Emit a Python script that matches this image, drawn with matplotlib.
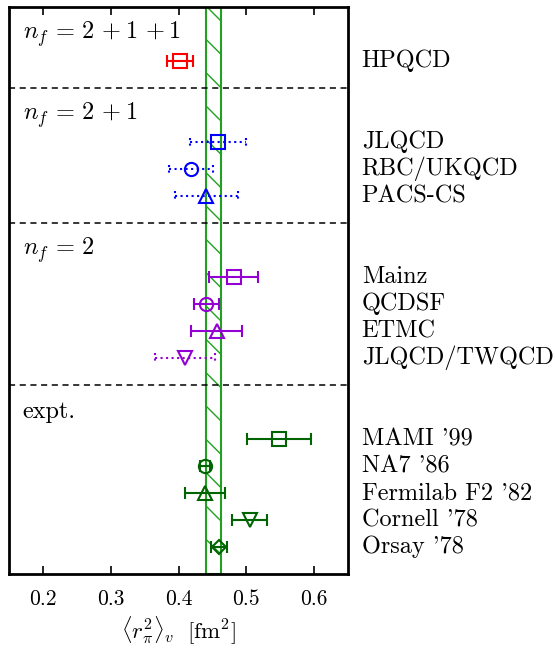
import matplotlib
matplotlib.use('Agg')
import matplotlib.pyplot as plt

plt.rcParams['font.family'] = 'serif'
plt.rcParams['font.serif'] = ['cmr10']
plt.rcParams['mathtext.fontset'] = 'cm'
plt.rcParams['axes.formatter.use_mathtext'] = True
plt.rcParams['hatch.linewidth'] = 1.0

# pion charge radius results, one entry per collaboration / experiment
labels = ['HPQCD',
          'JLQCD', 'RBC/UKQCD', 'PACS-CS',
          'Mainz', 'QCDSF', 'ETMC', 'JLQCD/TWQCD',
          "MAMI '99", "NA7 '86", "Fermilab F2 '82", "Cornell '78", "Orsay '78"]
values = [0.402,
          0.458, 0.418, 0.441,
          0.481, 0.441, 0.456, 0.409,
          0.548, 0.439, 0.439, 0.505, 0.460]
errors = [0.019,
          0.041, 0.032, 0.047,
          0.036, 0.019, 0.038, 0.044,
          0.047, 0.008, 0.030, 0.026, 0.012]
rows = [0, 3, 4, 5, 8, 9, 10, 11, 14, 15, 16, 17, 18]
markers = ['s', 's', 'o', '^', 's', 'o', '^', 'v', 's', 'o', '^', 'v', 'D']
colors = ['#ff0000',
          '#0000ff', '#0000ff', '#0000ff',
          '#9400d3', '#9400d3', '#9400d3', '#9400d3',
          '#006400', '#006400', '#006400', '#006400', '#006400']
dotted = [False, True, True, True, False, False, False, True,
          False, False, False, False, False]

groups = [r'$n_f\,=\,2\,+1\,+1$', r'$n_f\,=\,2\,+1$', r'$n_f\,=\,2$', 'expt.']
group_rows = [-1, 2, 7, 13]
dividers = [1, 6, 12]

band = (0.440, 0.462)

fig = plt.figure(figsize=(5.56, 6.5), dpi=100)
ax = fig.add_axes([0.0162, 0.117, 0.61, 0.872])

ax.axvspan(band[0], band[1], fill=False, hatch='\\', edgecolor='#22a022',
           linewidth=1.5, zorder=1)

for y in dividers:
    ax.axhline(y, color='k', linestyle=(0, (4, 3)), linewidth=1.1, zorder=2)

for lab, v, e, r, m, c, d in zip(labels, values, errors, rows, markers, colors, dotted):
    ms = 7.5 if m == 'D' else 9.5
    if d:
        ax.errorbar(v, r, xerr=e, fmt='none', ecolor=c, elinewidth=1.5,
                    capsize=0, zorder=3)[2][0].set_linestyle(':')
        ax.vlines([v - e, v + e], r - 0.17, r + 0.17, colors=c,
                  linestyles=':', linewidth=1.5, zorder=3)
    else:
        ax.errorbar(v, r, xerr=e, fmt='none', ecolor=c, elinewidth=1.5,
                    capsize=4, capthick=1.5, zorder=3)
    ax.plot(v, r, marker=m, markersize=ms, markerfacecolor='none',
            markeredgecolor=c, markeredgewidth=1.5, linestyle='none', zorder=4)
    ax.text(1.04, r, lab, transform=ax.get_yaxis_transform(), fontsize=17.5,
            va='center', ha='left', clip_on=False)

for g, r in zip(groups, group_rows):
    ax.text(0.17, r, g, fontsize=17.5, va='center', ha='left')

ax.set_xlim(0.15, 0.65)
ax.set_ylim(19, -2)
ax.set_xticks([0.2, 0.3, 0.4, 0.5, 0.6])
ax.set_xticklabels(['0.2', '0.3', '0.4', '0.5', '0.6'])
ax.set_yticks([])
ax.tick_params(axis='x', direction='in', top=True, bottom=True, length=6,
               width=1.2, labelsize=15.5, pad=11)
for s in ax.spines.values():
    s.set_linewidth(2.0)

ax.set_xlabel(r'$\langle r_\pi^2\rangle_v\ \ [\mathrm{fm}^2]$', fontsize=16.5,
              labelpad=4)

fig.savefig('out.png', dpi=100)
